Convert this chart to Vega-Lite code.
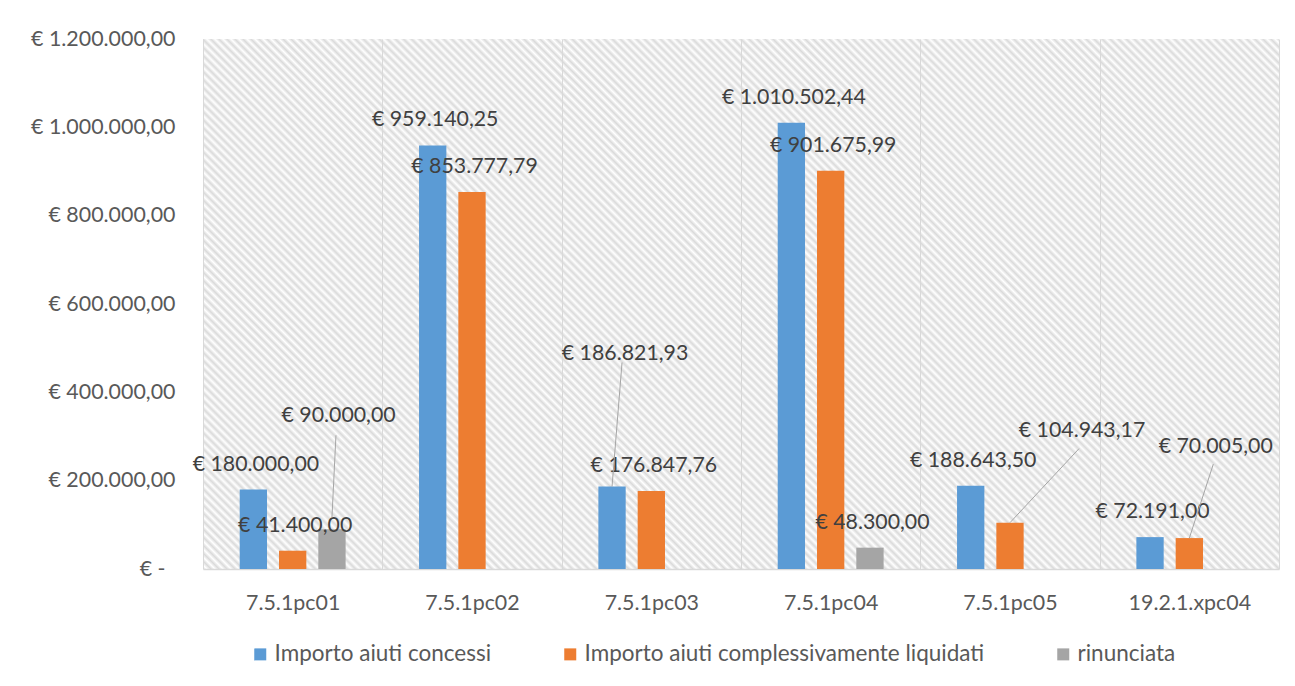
{
  "$schema": "https://vega.github.io/schema/vega-lite/v6.json",
  "width": 1076,
  "height": 530,
  "autosize": {"type": "none"},
  "padding": {"left": 203, "top": 39, "right": 16, "bottom": 117},
  "background": "white",
  "config": {
    "locale": {"number": {"decimal": ",", "thousands": ".", "grouping": [3], "currency": ["€ ", ""]}},
    "font": "Lato",
    "view": {"stroke": null, "fill": {"gradient": "linear", "x1": 0, "y1": 1, "x2": 1.201, "y2": 0.408, "stops": [
{"offset":0,"color":"#dadada"},{"offset":0.0025,"color":"#fff"},{"offset":0.005,"color":"#dadada"},{"offset":0.0075,"color":"#fff"},
{"offset":0.01,"color":"#dadada"},{"offset":0.0125,"color":"#fff"},{"offset":0.015,"color":"#dadada"},{"offset":0.0175,"color":"#fff"},
{"offset":0.02,"color":"#dadada"},{"offset":0.0225,"color":"#fff"},{"offset":0.025,"color":"#dadada"},{"offset":0.0275,"color":"#fff"},
{"offset":0.03,"color":"#dadada"},{"offset":0.0325,"color":"#fff"},{"offset":0.035,"color":"#dadada"},{"offset":0.0375,"color":"#fff"},
{"offset":0.04,"color":"#dadada"},{"offset":0.0425,"color":"#fff"},{"offset":0.045,"color":"#dadada"},{"offset":0.0475,"color":"#fff"},
{"offset":0.05,"color":"#dadada"},{"offset":0.0525,"color":"#fff"},{"offset":0.055,"color":"#dadada"},{"offset":0.0575,"color":"#fff"},
{"offset":0.06,"color":"#dadada"},{"offset":0.0625,"color":"#fff"},{"offset":0.065,"color":"#dadada"},{"offset":0.0675,"color":"#fff"},
{"offset":0.07,"color":"#dadada"},{"offset":0.0725,"color":"#fff"},{"offset":0.075,"color":"#dadada"},{"offset":0.0775,"color":"#fff"},
{"offset":0.08,"color":"#dadada"},{"offset":0.0825,"color":"#fff"},{"offset":0.085,"color":"#dadada"},{"offset":0.0875,"color":"#fff"},
{"offset":0.09,"color":"#dadada"},{"offset":0.0925,"color":"#fff"},{"offset":0.095,"color":"#dadada"},{"offset":0.0975,"color":"#fff"},
{"offset":0.1,"color":"#dadada"},{"offset":0.1025,"color":"#fff"},{"offset":0.105,"color":"#dadada"},{"offset":0.1075,"color":"#fff"},
{"offset":0.11,"color":"#dadada"},{"offset":0.1125,"color":"#fff"},{"offset":0.115,"color":"#dadada"},{"offset":0.1175,"color":"#fff"},
{"offset":0.12,"color":"#dadada"},{"offset":0.1225,"color":"#fff"},{"offset":0.125,"color":"#dadada"},{"offset":0.1275,"color":"#fff"},
{"offset":0.13,"color":"#dadada"},{"offset":0.1325,"color":"#fff"},{"offset":0.135,"color":"#dadada"},{"offset":0.1375,"color":"#fff"},
{"offset":0.14,"color":"#dadada"},{"offset":0.1425,"color":"#fff"},{"offset":0.145,"color":"#dadada"},{"offset":0.1475,"color":"#fff"},
{"offset":0.15,"color":"#dadada"},{"offset":0.1525,"color":"#fff"},{"offset":0.155,"color":"#dadada"},{"offset":0.1575,"color":"#fff"},
{"offset":0.16,"color":"#dadada"},{"offset":0.1625,"color":"#fff"},{"offset":0.165,"color":"#dadada"},{"offset":0.1675,"color":"#fff"},
{"offset":0.17,"color":"#dadada"},{"offset":0.1725,"color":"#fff"},{"offset":0.175,"color":"#dadada"},{"offset":0.1775,"color":"#fff"},
{"offset":0.18,"color":"#dadada"},{"offset":0.1825,"color":"#fff"},{"offset":0.185,"color":"#dadada"},{"offset":0.1875,"color":"#fff"},
{"offset":0.19,"color":"#dadada"},{"offset":0.1925,"color":"#fff"},{"offset":0.195,"color":"#dadada"},{"offset":0.1975,"color":"#fff"},
{"offset":0.2,"color":"#dadada"},{"offset":0.2025,"color":"#fff"},{"offset":0.205,"color":"#dadada"},{"offset":0.2075,"color":"#fff"},
{"offset":0.21,"color":"#dadada"},{"offset":0.2125,"color":"#fff"},{"offset":0.215,"color":"#dadada"},{"offset":0.2175,"color":"#fff"},
{"offset":0.22,"color":"#dadada"},{"offset":0.2225,"color":"#fff"},{"offset":0.225,"color":"#dadada"},{"offset":0.2275,"color":"#fff"},
{"offset":0.23,"color":"#dadada"},{"offset":0.2325,"color":"#fff"},{"offset":0.235,"color":"#dadada"},{"offset":0.2375,"color":"#fff"},
{"offset":0.24,"color":"#dadada"},{"offset":0.2425,"color":"#fff"},{"offset":0.245,"color":"#dadada"},{"offset":0.2475,"color":"#fff"},
{"offset":0.25,"color":"#dadada"},{"offset":0.2525,"color":"#fff"},{"offset":0.255,"color":"#dadada"},{"offset":0.2575,"color":"#fff"},
{"offset":0.26,"color":"#dadada"},{"offset":0.2625,"color":"#fff"},{"offset":0.265,"color":"#dadada"},{"offset":0.2675,"color":"#fff"},
{"offset":0.27,"color":"#dadada"},{"offset":0.2725,"color":"#fff"},{"offset":0.275,"color":"#dadada"},{"offset":0.2775,"color":"#fff"},
{"offset":0.28,"color":"#dadada"},{"offset":0.2825,"color":"#fff"},{"offset":0.285,"color":"#dadada"},{"offset":0.2875,"color":"#fff"},
{"offset":0.29,"color":"#dadada"},{"offset":0.2925,"color":"#fff"},{"offset":0.295,"color":"#dadada"},{"offset":0.2975,"color":"#fff"},
{"offset":0.3,"color":"#dadada"},{"offset":0.3025,"color":"#fff"},{"offset":0.305,"color":"#dadada"},{"offset":0.3075,"color":"#fff"},
{"offset":0.31,"color":"#dadada"},{"offset":0.3125,"color":"#fff"},{"offset":0.315,"color":"#dadada"},{"offset":0.3175,"color":"#fff"},
{"offset":0.32,"color":"#dadada"},{"offset":0.3225,"color":"#fff"},{"offset":0.325,"color":"#dadada"},{"offset":0.3275,"color":"#fff"},
{"offset":0.33,"color":"#dadada"},{"offset":0.3325,"color":"#fff"},{"offset":0.335,"color":"#dadada"},{"offset":0.3375,"color":"#fff"},
{"offset":0.34,"color":"#dadada"},{"offset":0.3425,"color":"#fff"},{"offset":0.345,"color":"#dadada"},{"offset":0.3475,"color":"#fff"},
{"offset":0.35,"color":"#dadada"},{"offset":0.3525,"color":"#fff"},{"offset":0.355,"color":"#dadada"},{"offset":0.3575,"color":"#fff"},
{"offset":0.36,"color":"#dadada"},{"offset":0.3625,"color":"#fff"},{"offset":0.365,"color":"#dadada"},{"offset":0.3675,"color":"#fff"},
{"offset":0.37,"color":"#dadada"},{"offset":0.3725,"color":"#fff"},{"offset":0.375,"color":"#dadada"},{"offset":0.3775,"color":"#fff"},
{"offset":0.38,"color":"#dadada"},{"offset":0.3825,"color":"#fff"},{"offset":0.385,"color":"#dadada"},{"offset":0.3875,"color":"#fff"},
{"offset":0.39,"color":"#dadada"},{"offset":0.3925,"color":"#fff"},{"offset":0.395,"color":"#dadada"},{"offset":0.3975,"color":"#fff"},
{"offset":0.4,"color":"#dadada"},{"offset":0.4025,"color":"#fff"},{"offset":0.405,"color":"#dadada"},{"offset":0.4075,"color":"#fff"},
{"offset":0.41,"color":"#dadada"},{"offset":0.4125,"color":"#fff"},{"offset":0.415,"color":"#dadada"},{"offset":0.4175,"color":"#fff"},
{"offset":0.42,"color":"#dadada"},{"offset":0.4225,"color":"#fff"},{"offset":0.425,"color":"#dadada"},{"offset":0.4275,"color":"#fff"},
{"offset":0.43,"color":"#dadada"},{"offset":0.4325,"color":"#fff"},{"offset":0.435,"color":"#dadada"},{"offset":0.4375,"color":"#fff"},
{"offset":0.44,"color":"#dadada"},{"offset":0.4425,"color":"#fff"},{"offset":0.445,"color":"#dadada"},{"offset":0.4475,"color":"#fff"},
{"offset":0.45,"color":"#dadada"},{"offset":0.4525,"color":"#fff"},{"offset":0.455,"color":"#dadada"},{"offset":0.4575,"color":"#fff"},
{"offset":0.46,"color":"#dadada"},{"offset":0.4625,"color":"#fff"},{"offset":0.465,"color":"#dadada"},{"offset":0.4675,"color":"#fff"},
{"offset":0.47,"color":"#dadada"},{"offset":0.4725,"color":"#fff"},{"offset":0.475,"color":"#dadada"},{"offset":0.4775,"color":"#fff"},
{"offset":0.48,"color":"#dadada"},{"offset":0.4825,"color":"#fff"},{"offset":0.485,"color":"#dadada"},{"offset":0.4875,"color":"#fff"},
{"offset":0.49,"color":"#dadada"},{"offset":0.4925,"color":"#fff"},{"offset":0.495,"color":"#dadada"},{"offset":0.4975,"color":"#fff"},
{"offset":0.5,"color":"#dadada"},{"offset":0.5025,"color":"#fff"},{"offset":0.505,"color":"#dadada"},{"offset":0.5075,"color":"#fff"},
{"offset":0.51,"color":"#dadada"},{"offset":0.5125,"color":"#fff"},{"offset":0.515,"color":"#dadada"},{"offset":0.5175,"color":"#fff"},
{"offset":0.52,"color":"#dadada"},{"offset":0.5225,"color":"#fff"},{"offset":0.525,"color":"#dadada"},{"offset":0.5275,"color":"#fff"},
{"offset":0.53,"color":"#dadada"},{"offset":0.5325,"color":"#fff"},{"offset":0.535,"color":"#dadada"},{"offset":0.5375,"color":"#fff"},
{"offset":0.54,"color":"#dadada"},{"offset":0.5425,"color":"#fff"},{"offset":0.545,"color":"#dadada"},{"offset":0.5475,"color":"#fff"},
{"offset":0.55,"color":"#dadada"},{"offset":0.5525,"color":"#fff"},{"offset":0.555,"color":"#dadada"},{"offset":0.5575,"color":"#fff"},
{"offset":0.56,"color":"#dadada"},{"offset":0.5625,"color":"#fff"},{"offset":0.565,"color":"#dadada"},{"offset":0.5675,"color":"#fff"},
{"offset":0.57,"color":"#dadada"},{"offset":0.5725,"color":"#fff"},{"offset":0.575,"color":"#dadada"},{"offset":0.5775,"color":"#fff"},
{"offset":0.58,"color":"#dadada"},{"offset":0.5825,"color":"#fff"},{"offset":0.585,"color":"#dadada"},{"offset":0.5875,"color":"#fff"},
{"offset":0.59,"color":"#dadada"},{"offset":0.5925,"color":"#fff"},{"offset":0.595,"color":"#dadada"},{"offset":0.5975,"color":"#fff"},
{"offset":0.6,"color":"#dadada"},{"offset":0.6025,"color":"#fff"},{"offset":0.605,"color":"#dadada"},{"offset":0.6075,"color":"#fff"},
{"offset":0.61,"color":"#dadada"},{"offset":0.6125,"color":"#fff"},{"offset":0.615,"color":"#dadada"},{"offset":0.6175,"color":"#fff"},
{"offset":0.62,"color":"#dadada"},{"offset":0.6225,"color":"#fff"},{"offset":0.625,"color":"#dadada"},{"offset":0.6275,"color":"#fff"},
{"offset":0.63,"color":"#dadada"},{"offset":0.6325,"color":"#fff"},{"offset":0.635,"color":"#dadada"},{"offset":0.6375,"color":"#fff"},
{"offset":0.64,"color":"#dadada"},{"offset":0.6425,"color":"#fff"},{"offset":0.645,"color":"#dadada"},{"offset":0.6475,"color":"#fff"},
{"offset":0.65,"color":"#dadada"},{"offset":0.6525,"color":"#fff"},{"offset":0.655,"color":"#dadada"},{"offset":0.6575,"color":"#fff"},
{"offset":0.66,"color":"#dadada"},{"offset":0.6625,"color":"#fff"},{"offset":0.665,"color":"#dadada"},{"offset":0.6675,"color":"#fff"},
{"offset":0.67,"color":"#dadada"},{"offset":0.6725,"color":"#fff"},{"offset":0.675,"color":"#dadada"},{"offset":0.6775,"color":"#fff"},
{"offset":0.68,"color":"#dadada"},{"offset":0.6825,"color":"#fff"},{"offset":0.685,"color":"#dadada"},{"offset":0.6875,"color":"#fff"},
{"offset":0.69,"color":"#dadada"},{"offset":0.6925,"color":"#fff"},{"offset":0.695,"color":"#dadada"},{"offset":0.6975,"color":"#fff"},
{"offset":0.7,"color":"#dadada"},{"offset":0.7025,"color":"#fff"},{"offset":0.705,"color":"#dadada"},{"offset":0.7075,"color":"#fff"},
{"offset":0.71,"color":"#dadada"},{"offset":0.7125,"color":"#fff"},{"offset":0.715,"color":"#dadada"},{"offset":0.7175,"color":"#fff"},
{"offset":0.72,"color":"#dadada"},{"offset":0.7225,"color":"#fff"},{"offset":0.725,"color":"#dadada"},{"offset":0.7275,"color":"#fff"},
{"offset":0.73,"color":"#dadada"},{"offset":0.7325,"color":"#fff"},{"offset":0.735,"color":"#dadada"},{"offset":0.7375,"color":"#fff"},
{"offset":0.74,"color":"#dadada"},{"offset":0.7425,"color":"#fff"},{"offset":0.745,"color":"#dadada"},{"offset":0.7475,"color":"#fff"},
{"offset":0.75,"color":"#dadada"},{"offset":0.7525,"color":"#fff"},{"offset":0.755,"color":"#dadada"},{"offset":0.7575,"color":"#fff"},
{"offset":0.76,"color":"#dadada"},{"offset":0.7625,"color":"#fff"},{"offset":0.765,"color":"#dadada"},{"offset":0.7675,"color":"#fff"},
{"offset":0.77,"color":"#dadada"},{"offset":0.7725,"color":"#fff"},{"offset":0.775,"color":"#dadada"},{"offset":0.7775,"color":"#fff"},
{"offset":0.78,"color":"#dadada"},{"offset":0.7825,"color":"#fff"},{"offset":0.785,"color":"#dadada"},{"offset":0.7875,"color":"#fff"},
{"offset":0.79,"color":"#dadada"},{"offset":0.7925,"color":"#fff"},{"offset":0.795,"color":"#dadada"},{"offset":0.7975,"color":"#fff"},
{"offset":0.8,"color":"#dadada"},{"offset":0.8025,"color":"#fff"},{"offset":0.805,"color":"#dadada"},{"offset":0.8075,"color":"#fff"},
{"offset":0.81,"color":"#dadada"},{"offset":0.8125,"color":"#fff"},{"offset":0.815,"color":"#dadada"},{"offset":0.8175,"color":"#fff"},
{"offset":0.82,"color":"#dadada"},{"offset":0.8225,"color":"#fff"},{"offset":0.825,"color":"#dadada"},{"offset":0.8275,"color":"#fff"},
{"offset":0.83,"color":"#dadada"},{"offset":0.8325,"color":"#fff"},{"offset":0.835,"color":"#dadada"},{"offset":0.8375,"color":"#fff"},
{"offset":0.84,"color":"#dadada"},{"offset":0.8425,"color":"#fff"},{"offset":0.845,"color":"#dadada"},{"offset":0.8475,"color":"#fff"},
{"offset":0.85,"color":"#dadada"},{"offset":0.8525,"color":"#fff"},{"offset":0.855,"color":"#dadada"},{"offset":0.8575,"color":"#fff"},
{"offset":0.86,"color":"#dadada"},{"offset":0.8625,"color":"#fff"},{"offset":0.865,"color":"#dadada"},{"offset":0.8675,"color":"#fff"},
{"offset":0.87,"color":"#dadada"},{"offset":0.8725,"color":"#fff"},{"offset":0.875,"color":"#dadada"},{"offset":0.8775,"color":"#fff"},
{"offset":0.88,"color":"#dadada"},{"offset":0.8825,"color":"#fff"},{"offset":0.885,"color":"#dadada"},{"offset":0.8875,"color":"#fff"},
{"offset":0.89,"color":"#dadada"},{"offset":0.8925,"color":"#fff"},{"offset":0.895,"color":"#dadada"},{"offset":0.8975,"color":"#fff"},
{"offset":0.9,"color":"#dadada"},{"offset":0.9025,"color":"#fff"},{"offset":0.905,"color":"#dadada"},{"offset":0.9075,"color":"#fff"},
{"offset":0.91,"color":"#dadada"},{"offset":0.9125,"color":"#fff"},{"offset":0.915,"color":"#dadada"},{"offset":0.9175,"color":"#fff"},
{"offset":0.92,"color":"#dadada"},{"offset":0.9225,"color":"#fff"},{"offset":0.925,"color":"#dadada"},{"offset":0.9275,"color":"#fff"},
{"offset":0.93,"color":"#dadada"},{"offset":0.9325,"color":"#fff"},{"offset":0.935,"color":"#dadada"},{"offset":0.9375,"color":"#fff"},
{"offset":0.94,"color":"#dadada"},{"offset":0.9425,"color":"#fff"},{"offset":0.945,"color":"#dadada"},{"offset":0.9475,"color":"#fff"},
{"offset":0.95,"color":"#dadada"},{"offset":0.9525,"color":"#fff"},{"offset":0.955,"color":"#dadada"},{"offset":0.9575,"color":"#fff"},
{"offset":0.96,"color":"#dadada"},{"offset":0.9625,"color":"#fff"},{"offset":0.965,"color":"#dadada"},{"offset":0.9675,"color":"#fff"},
{"offset":0.97,"color":"#dadada"},{"offset":0.9725,"color":"#fff"},{"offset":0.975,"color":"#dadada"},{"offset":0.9775,"color":"#fff"},
{"offset":0.98,"color":"#dadada"},{"offset":0.9825,"color":"#fff"},{"offset":0.985,"color":"#dadada"},{"offset":0.9875,"color":"#fff"},
{"offset":0.99,"color":"#dadada"},{"offset":0.9925,"color":"#fff"},{"offset":0.995,"color":"#dadada"},{"offset":0.9975,"color":"#fff"},
{"offset":1,"color":"#dadada"}
    ]}},
    "axis": {"labelFont": "Lato", "labelFontSize": 21.4, "labelColor": "#595959"}
  },
  "data": {
    "values": [
      {"cat": "7.5.1pc01", "series": "Importo aiuti concessi", "value": 180000.00},
      {"cat": "7.5.1pc01", "series": "Importo aiuti complessivamente liquidati", "value": 41400.00},
      {"cat": "7.5.1pc01", "series": "rinunciata", "value": 90000.00},
      {"cat": "7.5.1pc02", "series": "Importo aiuti concessi", "value": 959140.25},
      {"cat": "7.5.1pc02", "series": "Importo aiuti complessivamente liquidati", "value": 853777.79},
      {"cat": "7.5.1pc03", "series": "Importo aiuti concessi", "value": 186821.93},
      {"cat": "7.5.1pc03", "series": "Importo aiuti complessivamente liquidati", "value": 176847.76},
      {"cat": "7.5.1pc04", "series": "Importo aiuti concessi", "value": 1010502.44},
      {"cat": "7.5.1pc04", "series": "Importo aiuti complessivamente liquidati", "value": 901675.99},
      {"cat": "7.5.1pc04", "series": "rinunciata", "value": 48300.00},
      {"cat": "7.5.1pc05", "series": "Importo aiuti concessi", "value": 188643.50},
      {"cat": "7.5.1pc05", "series": "Importo aiuti complessivamente liquidati", "value": 104943.17},
      {"cat": "19.2.1.xpc04", "series": "Importo aiuti concessi", "value": 72191.00},
      {"cat": "19.2.1.xpc04", "series": "Importo aiuti complessivamente liquidati", "value": 70005.00}
    ]
  },
  "encoding": {
    "x": {
      "field": "cat", "type": "nominal", "sort": null, "title": null,
      "scale": {"paddingInner": 0, "paddingOuter": 0},
      "axis": {"grid": true, "tickBand": "extent", "gridColor": "#d9d9d9", "gridWidth": 1, "domainColor": "#d9d9d9", "domainWidth": 1.5, "ticks": false, "tickSize": 0, "labelAngle": 0, "labelPadding": 40, "labelBaseline": "alphabetic"}
    },
    "xOffset": {
      "field": "series", "type": "nominal",
      "scale": {"domain": ["Importo aiuti concessi", "Importo aiuti complessivamente liquidati", "rinunciata"], "paddingInner": 0.305, "paddingOuter": 0.934}
    },
    "y": {
      "field": "value", "type": "quantitative", "title": null,
      "scale": {"domain": [0, 1200000]},
      "axis": {"values": [0, 200000, 400000, 600000, 800000, 1000000, 1200000], "format": "$,.2f", "labelExpr": "datum.value == 0 ? '€ -' : datum.label", "grid": false, "domain": false, "ticks": false, "tickSize": 0, "labelPadding": {"condition": {"test": "datum.value == 0", "value": 38}, "value": 28}}
    }
  },
  "layer": [
    {
      "mark": {"type": "bar"},
      "encoding": {
        "color": {
          "field": "series", "type": "nominal",
          "scale": {"domain": ["Importo aiuti concessi", "Importo aiuti complessivamente liquidati", "rinunciata"], "range": ["#5B9BD5", "#ED7D31", "#A5A5A5"]},
          "legend": {"title": null, "orient": "none", "legendX": 46, "legendY": 604, "direction": "horizontal", "symbolType": "square", "symbolSize": 144, "symbolStrokeWidth": 0, "labelFontSize": 22.5, "labelColor": "#595959", "labelFont": "Lato", "columnPadding": 67, "labelOffset": 3, "labelLimit": 600, "padding": 0}
        }
      }
    },
    {
      "transform": [{"filter": "!((datum.cat == '7.5.1pc01' && datum.series == 'rinunciata') || (datum.cat == '7.5.1pc03' && datum.series == 'Importo aiuti concessi') || (datum.cat == '7.5.1pc05' && datum.series == 'Importo aiuti complessivamente liquidati') || (datum.cat == '19.2.1.xpc04' && datum.series == 'Importo aiuti complessivamente liquidati'))"}],
      "mark": {"type": "text", "dx": 2.5, "dy": -25, "baseline": "middle", "align": "center", "fontSize": 21.3, "font": "Lato", "color": "#404040"},
      "encoding": {"text": {"field": "value", "type": "quantitative", "format": "$,.2f"}}
    },
    {
      "transform": [{"filter": "datum.cat == '7.5.1pc01' && datum.series == 'rinunciata'"}],
      "mark": {"type": "text", "dx": 6.6, "dy": -113, "baseline": "middle", "align": "center", "fontSize": 21.3, "font": "Lato", "color": "#404040"},
      "encoding": {"text": {"field": "value", "type": "quantitative", "format": "$,.2f"}}
    },
    {
      "transform": [{"filter": "datum.cat == '7.5.1pc03' && datum.series == 'Importo aiuti concessi'"}],
      "mark": {"type": "text", "dx": 13, "dy": -132, "baseline": "middle", "align": "center", "fontSize": 21.3, "font": "Lato", "color": "#404040"},
      "encoding": {"text": {"field": "value", "type": "quantitative", "format": "$,.2f"}}
    },
    {
      "transform": [{"filter": "datum.cat == '7.5.1pc05' && datum.series == 'Importo aiuti complessivamente liquidati'"}],
      "mark": {"type": "text", "dx": 72, "dy": -92, "baseline": "middle", "align": "center", "fontSize": 21.3, "font": "Lato", "color": "#404040"},
      "encoding": {"text": {"field": "value", "type": "quantitative", "format": "$,.2f"}}
    },
    {
      "transform": [{"filter": "datum.cat == '19.2.1.xpc04' && datum.series == 'Importo aiuti complessivamente liquidati'"}],
      "mark": {"type": "text", "dx": 26.4, "dy": -91.4, "baseline": "middle", "align": "center", "fontSize": 21.3, "font": "Lato", "color": "#404040"},
      "encoding": {"text": {"field": "value", "type": "quantitative", "format": "$,.2f"}}
    },
    {
      "transform": [{"filter": "datum.cat == '7.5.1pc01' && datum.series == 'rinunciata'"}],
      "mark": {"type": "point", "shape": "M0,-12L4,-94", "size": 4, "filled": false, "stroke": "#A6A6A6", "strokeWidth": 1, "opacity": 1}
    },
    {
      "transform": [{"filter": "datum.cat == '7.5.1pc03' && datum.series == 'Importo aiuti concessi'"}],
      "mark": {"type": "point", "shape": "M0,0L10,-124", "size": 4, "filled": false, "stroke": "#A6A6A6", "strokeWidth": 1, "opacity": 1}
    },
    {
      "transform": [{"filter": "datum.cat == '7.5.1pc05' && datum.series == 'Importo aiuti complessivamente liquidati'"}],
      "mark": {"type": "point", "shape": "M0,0L69,-74", "size": 4, "filled": false, "stroke": "#A6A6A6", "strokeWidth": 1, "opacity": 1}
    },
    {
      "transform": [{"filter": "datum.cat == '19.2.1.xpc04' && datum.series == 'Importo aiuti complessivamente liquidati'"}],
      "mark": {"type": "point", "shape": "M0,0L24,-74", "size": 4, "filled": false, "stroke": "#A6A6A6", "strokeWidth": 1, "opacity": 1}
    }
  ]
}
